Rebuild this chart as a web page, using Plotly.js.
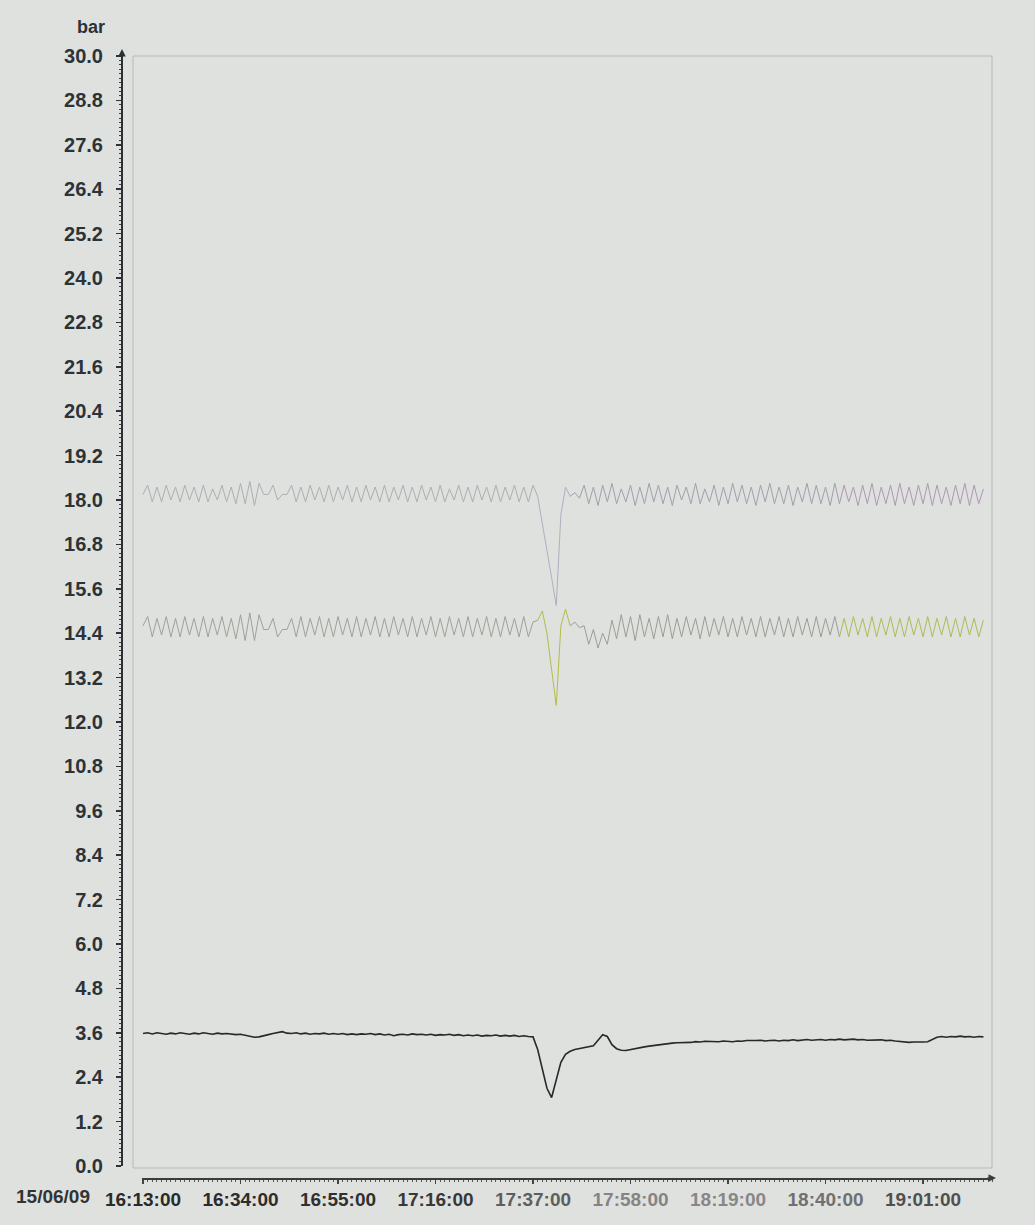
<!DOCTYPE html>
<html>
<head>
<meta charset="utf-8">
<script src="https://cdn.plot.ly/plotly-3.0.1.min.js"></script>
<style>
  html, body { margin: 0; padding: 0; background: #dfe1de; }
  #chart { width: 1035px; height: 1225px; }
</style>
</head>
<body>
<div id="chart"></div>
<script>
// ---- data (1-minute samples starting 15/06/09 16:13:00) ----
const dateLabel = '15/06/09';
const startClock = [16, 13];           // first sample time
const sampleMinutes = 1;

const upperPressure = [
  18.15, 18.4, 17.95, 18.35, 17.95, 18.4, 18.0, 18.35, 17.95, 18.4,
  18.0, 18.35, 17.95, 18.4, 17.95, 18.3, 18.0, 18.4, 17.95, 18.35,
  17.9, 18.45, 17.9, 18.5, 17.85, 18.45,
  18.15, 18.15, 18.4, 18.0, 18.15, 18.15, 18.4, 17.95,
  18.35, 17.95, 18.4, 18.0, 18.35, 17.95,
  18.4, 17.95, 18.35, 18.0, 18.4, 17.95, 18.35, 17.95, 18.4, 18.0,
  18.35, 17.95, 18.4, 17.95, 18.35, 18.0, 18.4, 17.95, 18.35, 17.95,
  18.4, 18.0, 18.35, 17.95, 18.4, 17.95, 18.3, 18.0, 18.4, 17.95,
  18.35, 17.95, 18.4, 18.0, 18.35, 17.95, 18.4, 17.95, 18.35, 18.0,
  18.4, 17.95, 18.35, 17.95, 18.4,
  18.1, 17.4, 16.7, 15.9, 15.15, 17.6, 18.35,
  18.1, 18.2, 18.05,
  18.4, 17.9, 18.35, 17.85, 18.4, 17.95, 18.45, 17.9, 18.3, 17.95,
  18.4, 17.85, 18.35, 17.9, 18.45, 17.95, 18.4, 17.9, 18.35, 17.85,
  18.4, 18.0, 18.35, 17.9, 18.45, 17.9, 18.3, 17.95, 18.4, 17.85,
  18.35, 17.9, 18.45, 17.95, 18.4, 17.9, 18.35, 17.85, 18.4, 17.95,
  18.45, 17.9, 18.35, 17.9, 18.4, 17.85, 18.35, 17.95, 18.45, 17.9,
  18.4, 17.9, 18.35, 17.85, 18.45, 17.9, 18.4, 17.95, 18.35, 17.85,
  18.4, 17.9, 18.45, 17.85, 18.35, 17.9, 18.4, 17.85, 18.45, 17.9,
  18.35, 17.85, 18.4, 17.9, 18.45, 17.85, 18.4, 17.9, 18.35, 17.85,
  18.4, 17.9, 18.45, 17.85, 18.4, 17.9, 18.3
];

const middlePressure = [
  14.6, 14.85, 14.3, 14.8, 14.35, 14.85, 14.3, 14.8, 14.3, 14.85,
  14.35, 14.8, 14.3, 14.85, 14.3, 14.8, 14.35, 14.85, 14.3, 14.8,
  14.25, 14.9, 14.2, 14.95, 14.2, 14.9,
  14.5, 14.5, 14.8, 14.3, 14.5, 14.5, 14.8, 14.3,
  14.85, 14.3, 14.8, 14.35, 14.85, 14.3,
  14.8, 14.3, 14.85, 14.35, 14.8, 14.3, 14.85, 14.3, 14.8, 14.35,
  14.85, 14.3, 14.8, 14.3, 14.85, 14.35, 14.8, 14.3, 14.85, 14.3,
  14.8, 14.35, 14.85, 14.3, 14.8, 14.3, 14.85, 14.35, 14.8, 14.3,
  14.85, 14.3, 14.8, 14.35, 14.85, 14.3, 14.8, 14.3, 14.85, 14.35,
  14.8, 14.3, 14.85, 14.3, 14.7,
  14.75, 15.0, 14.4, 13.4, 12.45, 14.6, 15.05,
  14.6, 14.7, 14.55,
  14.6, 14.1, 14.5, 14.0, 14.4, 14.1,
  14.75, 14.25, 14.9, 14.3, 14.85, 14.2, 14.9, 14.3, 14.8, 14.25,
  14.85, 14.3, 14.9, 14.25, 14.8, 14.3, 14.85, 14.35, 14.8, 14.25,
  14.85, 14.3, 14.8, 14.35, 14.85, 14.3, 14.8, 14.3, 14.85, 14.35,
  14.8, 14.3, 14.85, 14.3, 14.8, 14.35, 14.85, 14.3, 14.8, 14.3,
  14.85, 14.35, 14.8, 14.3, 14.85, 14.3, 14.8, 14.35, 14.85, 14.3,
  14.8, 14.3, 14.85, 14.35, 14.8, 14.3, 14.85, 14.3, 14.8, 14.35,
  14.85, 14.3, 14.8, 14.3, 14.85, 14.35, 14.8, 14.3, 14.85, 14.3,
  14.8, 14.35, 14.85, 14.3, 14.8, 14.3, 14.85, 14.35, 14.8, 14.3, 14.75
];

const lowerPressure = [
  3.58, 3.6, 3.57, 3.6, 3.58, 3.56, 3.59, 3.57, 3.6, 3.58,
  3.56, 3.59, 3.57, 3.6, 3.58, 3.56, 3.59, 3.57, 3.58, 3.56,
  3.55, 3.56, 3.53, 3.5, 3.48, 3.49, 3.53, 3.55, 3.58, 3.6,
  3.63, 3.59, 3.58, 3.6, 3.57, 3.59, 3.56, 3.58, 3.57, 3.59,
  3.56, 3.58, 3.56, 3.58, 3.55, 3.57, 3.55, 3.57, 3.56, 3.58,
  3.55, 3.57, 3.54, 3.56, 3.52, 3.55, 3.56, 3.54, 3.57, 3.55,
  3.56, 3.54, 3.56, 3.53, 3.55, 3.54, 3.56, 3.53, 3.55, 3.52,
  3.54, 3.52, 3.54, 3.51, 3.53, 3.52, 3.54, 3.51, 3.53, 3.51,
  3.53, 3.5, 3.52, 3.5, 3.49,
  3.15, 2.6, 2.1, 1.85, 2.35, 2.8, 3.02,
  3.1, 3.15, 3.18, 3.2, 3.22, 3.25, 3.4, 3.55, 3.5, 3.28,
  3.17, 3.13, 3.12, 3.15, 3.18, 3.2, 3.22, 3.24, 3.26, 3.27,
  3.29, 3.3, 3.32, 3.33, 3.33, 3.35, 3.34, 3.36, 3.35, 3.37,
  3.36, 3.37, 3.36, 3.38, 3.37, 3.36, 3.38, 3.37, 3.39, 3.38,
  3.39, 3.4, 3.38, 3.39, 3.4, 3.38, 3.4, 3.39, 3.41, 3.39,
  3.4, 3.42, 3.4, 3.41, 3.42, 3.4, 3.42, 3.41, 3.43, 3.41,
  3.42, 3.43, 3.41, 3.42, 3.4, 3.41, 3.4, 3.41, 3.39, 3.4,
  3.38, 3.36, 3.35, 3.34, 3.35, 3.34, 3.35, 3.36, 3.42, 3.48,
  3.5, 3.48, 3.5, 3.49, 3.51, 3.49, 3.5, 3.48, 3.5, 3.49
];

const xTickLabels = ['16:13:00', '16:34:00', '16:55:00', '17:16:00', '17:37:00',
                     '17:58:00', '18:19:00', '18:40:00', '19:01:00'];
const yAxisUnit = 'bar';

// ---- styling ----
const xTickColors = ['#2a2a2a', '#2c2c2c', '#303030', '#383838', '#5e5e5e',
                     '#848484', '#878787', '#707070', '#505050'];
const datePrefix = '2009-06-15 ';
function clock(totalMin) {
  const h = Math.floor(totalMin / 60), m = totalMin % 60;
  return datePrefix + String(h).padStart(2, '0') + ':' + String(m).padStart(2, '0') + ':00';
}
const t0 = startClock[0] * 60 + startClock[1];
const times = upperPressure.map((_, i) => clock(t0 + i * sampleMinutes));

function seg(arr, a, b, color, width) {
  return {
    type: 'scatter', mode: 'lines',
    x: times.slice(a, b + 1), y: arr.slice(a, b + 1),
    line: { color: color, width: width, shape: 'linear' },
    hoverinfo: 'skip', showlegend: false
  };
}
const last = upperPressure.length - 1;
const traces = [
  seg(upperPressure, 0, 85, '#aeadb4', 1),
  seg(upperPressure, 85, 92, '#b2aec2', 1),
  seg(upperPressure, 92, 150, '#a29eab', 1),
  seg(upperPressure, 150, last, '#ae97b4', 1),
  seg(middlePressure, 0, 85, '#9ea199', 1),
  seg(middlePressure, 85, 92, '#b3bd45', 1),
  seg(middlePressure, 92, 150, '#999e94', 1),
  seg(middlePressure, 150, last, '#aebb55', 1),
  seg(lowerPressure, 0, last, '#26292b', 1.6)
];

// geometry (pixels -> paper fractions)
const W = 1035, H = 1225, ML = 122, MR = 42, MT = 50, MB = 45;
const PW = W - ML - MR, PH = H - MT - MB;
const px = x => (x - ML) / PW;
const py = y => (H - MB - y) / PH;

const layout = {
  width: W, height: H,
  margin: { l: ML, r: MR, t: MT, b: MB, pad: 0 },
  paper_bgcolor: '#dfe1de',
  plot_bgcolor: '#dfe1de',
  showlegend: false,
  font: { family: 'Liberation Sans, Arial, sans-serif', color: '#2b3338' },
  xaxis: {
    type: 'date',
    domain: [px(142), 1],
    anchor: 'free', position: py(1178),
    range: ['2009-06-15 16:12:47', '2009-06-15 19:16:04'],
    tickmode: 'array',
    tickvals: xTickLabels.map(s => datePrefix + s),
    ticktext: xTickLabels.map((s, i) => '<span style="color:' + xTickColors[i] + '">' + s + '</span>'),
    ticks: 'outside', ticklen: 4, tickwidth: 1.2, tickcolor: '#444',
    minor: { ticks: 'outside', ticklen: 2, tickwidth: 1, tickcolor: '#555', tick0: '2009-06-15 16:13:00', dtick: 60000, showgrid: false },
    showline: true, linecolor: '#3c3c3c', linewidth: 1.5,
    showgrid: false, zeroline: false,
    tickfont: { family: 'Liberation Sans, Arial, sans-serif', size: 19, weight: 700, color: '#333' },
    fixedrange: true
  },
  yaxis: {
    domain: [py(1166), py(56)],
    anchor: 'free', position: 0,
    range: [0, 30],
    tickmode: 'linear', tick0: 0, dtick: 1.2, tickformat: '.1f',
    ticks: 'outside', ticklen: 5, tickwidth: 1.5, tickcolor: '#2b3338',
    ticklabelstandoff: 9,
    minor: { ticks: 'outside', ticklen: 2, tickwidth: 1, tickcolor: '#3a4248', dtick: 0.12, showgrid: false },
    showline: true, linecolor: '#2a3035', linewidth: 2,
    showgrid: false, zeroline: false,
    tickfont: { family: 'Liberation Sans, Arial, sans-serif', size: 20, weight: 700, color: '#2b3338' },
    fixedrange: true
  },
  shapes: [
    { type: 'rect', xref: 'paper', yref: 'paper',
      x0: px(133), x1: px(992), y0: py(1168), y1: py(56),
      line: { color: '#b7b7bc', width: 1 }, fillcolor: 'rgba(0,0,0,0)', layer: 'below' }
  ],
  annotations: [
    { xref: 'paper', yref: 'paper', x: px(91), y: py(27), text: yAxisUnit, showarrow: false,
      xanchor: 'center', yanchor: 'middle',
      font: { family: 'Liberation Sans, Arial, sans-serif', size: 18, weight: 700, color: '#2b3338' } },
    { xref: 'paper', yref: 'paper', x: px(53), y: py(1196), text: dateLabel, showarrow: false,
      xanchor: 'center', yanchor: 'middle',
      font: { family: 'Liberation Sans, Arial, sans-serif', size: 19, weight: 700, color: '#333' } },
    { xref: 'paper', yref: 'paper', x: 0, y: py(49), text: '', showarrow: true,
      ax: 0, ay: 10, arrowhead: 2, arrowsize: 1, arrowwidth: 1.5, arrowcolor: '#2a3035' },
    { xref: 'paper', yref: 'paper', x: px(996), y: py(1178), text: '', showarrow: true,
      ax: -10, ay: 0, arrowhead: 2, arrowsize: 1, arrowwidth: 1.5, arrowcolor: '#3c3c3c' }
  ]
};

Plotly.newPlot('chart', traces, layout, { staticPlot: true, displayModeBar: false });
</script>
</body>
</html>
